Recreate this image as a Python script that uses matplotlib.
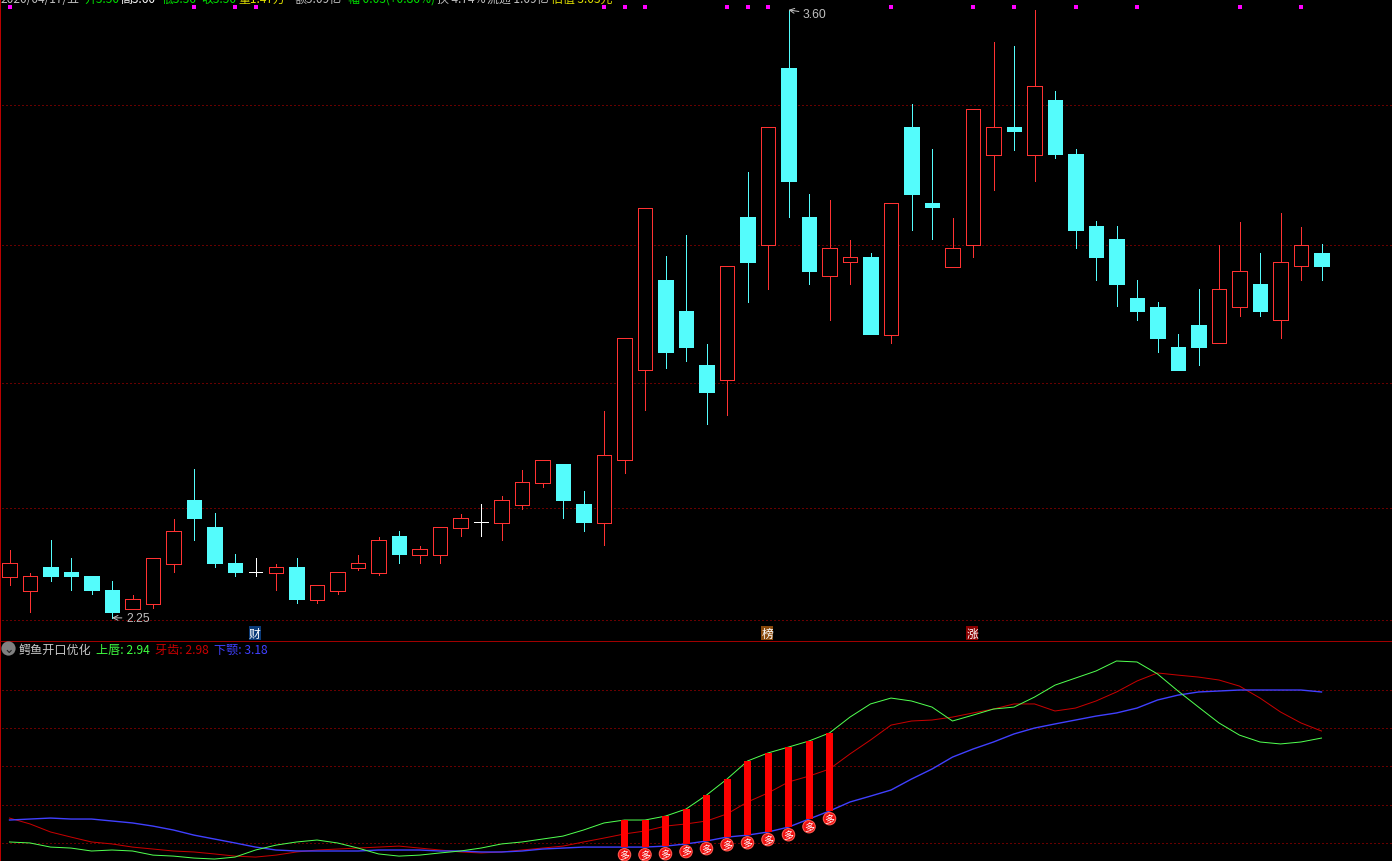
import matplotlib
matplotlib.use("Agg")
import matplotlib.pyplot as plt
from matplotlib.patches import Rectangle

plt.rcParams['font.family'] = ['Noto Sans CJK SC', 'DejaVu Sans']

# Daily prices
opens = [2.340, 2.309, 2.362, 2.351, 2.342, 2.311, 2.269, 2.280, 2.369, 2.511, 2.451, 2.371, 2.351,
         2.349, 2.362, 2.289, 2.309, 2.360, 2.349, 2.431, 2.389, 2.389, 2.449, 2.462, 2.460, 2.500,
         2.549, 2.591, 2.502, 2.460, 2.600, 2.800, 3.000, 2.931, 2.811, 2.778, 3.140, 3.078, 3.471,
         3.140, 3.009, 3.040, 3.051, 2.878, 3.340, 3.171, 3.029, 3.078, 3.278, 3.340, 3.278, 3.400,
         3.280, 3.120, 3.091, 2.960, 2.940, 2.851, 2.900, 2.860, 2.940, 2.991, 2.911, 3.031, 3.060]
closes = [2.371, 2.342, 2.342, 2.342, 2.311, 2.262, 2.291, 2.382, 2.442, 2.471, 2.371, 2.351, 2.351,
          2.362, 2.291, 2.322, 2.351, 2.371, 2.422, 2.391, 2.402, 2.451, 2.471, 2.462, 2.511, 2.551,
          2.600, 2.511, 2.462, 2.611, 2.871, 3.160, 2.840, 2.851, 2.751, 3.031, 3.040, 3.340, 3.220,
          3.020, 3.071, 3.051, 2.880, 3.171, 3.191, 3.162, 3.071, 3.380, 3.340, 3.331, 3.431, 3.280,
          3.111, 3.051, 2.991, 2.931, 2.871, 2.800, 2.851, 2.980, 3.020, 2.931, 3.040, 3.078, 3.031]
highs = [2.400, 2.349, 2.422, 2.382, 2.342, 2.331, 2.300, 2.382, 2.469, 2.580, 2.482, 2.391, 2.382,
         2.369, 2.382, 2.322, 2.351, 2.389, 2.429, 2.442, 2.409, 2.451, 2.480, 2.502, 2.520, 2.578,
         2.600, 2.591, 2.531, 2.709, 2.871, 3.160, 3.053, 3.100, 2.858, 3.031, 3.240, 3.340, 3.600,
         3.191, 3.178, 3.089, 3.060, 3.171, 3.391, 3.291, 3.138, 3.380, 3.529, 3.520, 3.600, 3.420,
         3.291, 3.131, 3.120, 3.000, 2.951, 2.880, 2.980, 3.078, 3.129, 3.060, 3.149, 3.118, 3.080]
lows = [2.322, 2.262, 2.331, 2.311, 2.302, 2.249, 2.269, 2.271, 2.351, 2.422, 2.362, 2.342, 2.342,
        2.311, 2.282, 2.282, 2.302, 2.355, 2.344, 2.371, 2.371, 2.371, 2.431, 2.431, 2.422, 2.491,
        2.540, 2.471, 2.442, 2.411, 2.571, 2.711, 2.804, 2.820, 2.680, 2.700, 2.951, 2.980, 3.140,
        2.991, 2.911, 2.991, 2.880, 2.860, 3.111, 3.091, 3.029, 3.051, 3.200, 3.289, 3.220, 3.271,
        3.071, 3.000, 2.942, 2.911, 2.840, 2.800, 2.811, 2.860, 2.920, 2.920, 2.871, 3.000, 3.000]

# Alligator lines
lips = [2.410, 2.405, 2.384, 2.379, 2.364, 2.369, 2.364, 2.343, 2.338, 2.328, 2.323, 2.333, 2.369,
        2.394, 2.410, 2.420, 2.405, 2.379, 2.349, 2.338, 2.343, 2.354, 2.364, 2.379, 2.400, 2.410,
        2.425, 2.440, 2.471, 2.507, 2.522, 2.522, 2.542, 2.578, 2.649, 2.731, 2.823, 2.864, 2.894,
        2.925, 2.966, 3.047, 3.114, 3.144, 3.129, 3.098, 3.027, 3.057, 3.088, 3.098, 3.149, 3.210,
        3.246, 3.282, 3.333, 3.328, 3.267, 3.180, 3.098, 3.017, 2.955, 2.920, 2.910, 2.920, 2.940]
teeth = [2.532, 2.502, 2.461, 2.435, 2.410, 2.400, 2.384, 2.374, 2.364, 2.359, 2.349, 2.338, 2.333,
         2.343, 2.359, 2.369, 2.374, 2.379, 2.384, 2.389, 2.379, 2.369, 2.359, 2.354, 2.359, 2.369,
         2.379, 2.389, 2.410, 2.430, 2.451, 2.466, 2.491, 2.502, 2.517, 2.553, 2.614, 2.660, 2.716,
         2.746, 2.782, 2.859, 2.930, 3.006, 3.027, 3.032, 3.047, 3.068, 3.088, 3.114, 3.114, 3.078,
         3.093, 3.129, 3.175, 3.231, 3.272, 3.261, 3.251, 3.236, 3.205, 3.144, 3.073, 3.017, 2.976]
jaw = [2.522, 2.527, 2.532, 2.527, 2.527, 2.517, 2.507, 2.491, 2.471, 2.445, 2.425, 2.405, 2.384,
       2.369, 2.364, 2.364, 2.364, 2.364, 2.369, 2.369, 2.369, 2.364, 2.364, 2.359, 2.359, 2.364,
       2.374, 2.379, 2.384, 2.384, 2.384, 2.384, 2.389, 2.400, 2.415, 2.435, 2.445, 2.461, 2.486,
       2.527, 2.568, 2.614, 2.644, 2.675, 2.731, 2.782, 2.843, 2.884, 2.920, 2.961, 2.991, 3.012,
       3.032, 3.052, 3.068, 3.093, 3.134, 3.159, 3.175, 3.180, 3.185, 3.185, 3.185, 3.185, 3.175]

signal_days = [30, 31, 32, 33, 34, 35, 36, 37, 38, 39, 40]
flag_days = [0, 9, 11, 12, 29, 30, 31, 35, 36, 37, 43, 47, 49, 52, 55, 60, 63]
main_grid = [3.389, 3.078, 2.771, 2.493, 2.244]
sub_grid = [3.185, 2.991, 2.797, 2.598, 2.405]
notes = [(12, "财", "#0a3a78"), (37, "榜", "#8a4a0c"), (47, "涨", "#8a0000")]
header = [(1, "2020/04/17/五", "#c0c0c0"), (84, "开3.50", "#00e000"), (120, "高3.60", "#ffffff"),
          (162, "低3.36", "#00e000"), (201, "收3.50", "#00e000"), (238, "量1.47万", "#e0e000"),
          (295, "额5.09亿", "#c0c0c0"), (348, "幅 0.03(+0.86%)", "#00e000"),
          (437, "换 4.74%", "#c0c0c0"), (487, "流通 1.09亿", "#c0c0c0"), (551, "估值 3.03元", "#e0e000")]
legend = [(19, "鳄鱼开口优化", "#c8c8c8"), (96, "上唇: 2.94", "#40ff40"),
          (155, "牙齿: 2.98", "#c80000"), (214, "下颚: 3.18", "#4040ff")]

W, H = 1392, 862
SPLIT = 642
RED = "#ff3232"
CYAN = "#54fcfc"
GRID = "#d00000"
PX = 0.72

fig = plt.figure(figsize=(W / 100, H / 100), dpi=100, facecolor="black")
ax = fig.add_axes([0, (H - SPLIT) / H, 1, SPLIT / H], facecolor="black", zorder=2)
sub = fig.add_axes([0, 0, 1, (H - SPLIT) / H], facecolor="black", zorder=1)

xlim = (-9.5 / 20.5, (W - 9.5) / 20.5)
ax.set_xlim(xlim)
ax.set_ylim(2.1975, 3.6242)
sub.set_xlim(xlim)
sub.set_ylim(2.313, 3.435)

for a in (ax, sub):
    a.set_xticks([])
    a.set_yticks([])
    for s in a.spines.values():
        s.set_visible(False)
    a.spines['left'].set_visible(True)
    a.spines['left'].set_color("#c00000")
    a.spines['left'].set_linewidth(1.4)
ax.spines['bottom'].set_visible(True)
ax.spines['bottom'].set_color("#a00000")
ax.spines['bottom'].set_linewidth(PX)

for g in main_grid:
    ax.plot([xlim[0] + 2 / 20.5, xlim[1]], [g, g], color=GRID, lw=PX,
            ls=(0, (1, 3)), snap=True, zorder=1)
for g in sub_grid:
    sub.plot([xlim[0] + 2 / 20.5, xlim[1]], [g, g], color=GRID, lw=PX,
             ls=(0, (1, 3)), snap=True, zorder=1)

# candles
for i in range(len(opens)):
    o, c, h, l = opens[i], closes[i], highs[i], lows[i]
    col = RED if c > o else CYAN if c < o else "#ffffff"
    ax.plot([i, i], [l, h], color=col, lw=PX, antialiased=False, zorder=2, solid_capstyle="butt")
    if c == o:
        ax.plot([i - 0.34, i + 0.34], [o, o], color=col, lw=PX, antialiased=False, zorder=3)
    else:
        ax.add_patch(Rectangle((i - 0.35, min(o, c)), 0.7, abs(c - o), antialiased=False,
                               facecolor="black" if c > o else col, edgecolor=col,
                               lw=PX, zorder=3))

# flag row along the top
ax.scatter(flag_days, [3.606] * len(flag_days), marker="s", s=9, color="#ff00ff", linewidths=0, zorder=4)

# high and low notes
ax.annotate("3.60", xy=(38, 3.60), xytext=(803, H - 15), textcoords="figure pixels", color="#c0c0c0",
            fontsize=8.7, va="center", family="Liberation Sans",
            arrowprops=dict(arrowstyle="->", color="#c0c0c0", lw=PX, shrinkA=1, shrinkB=0))
ax.annotate("2.25", xy=(5, 2.249), xytext=(126, H - 619), textcoords="figure pixels", color="#c0c0c0",
            fontsize=8.7, va="center", family="Liberation Sans",
            arrowprops=dict(arrowstyle="->", color="#c0c0c0", lw=PX, shrinkA=1, shrinkB=0))

for day, ch, bg in notes:
    ax.text(day - 0.04, 2.215, ch, color="white", fontsize=8.5, ha="center", va="center", zorder=5,
            bbox=dict(boxstyle="square,pad=0.02", facecolor=bg, edgecolor="none"))

for px, txt, col in header:
    fig.text(px / W, 1 - 3 / H, txt, color=col, fontsize=8.6, ha="left", va="baseline")

# lower pane
days = range(len(lips))
sub.plot(days, teeth, color="#c80000", lw=PX, zorder=3)
sub.plot(days, jaw, color="#4040ff", lw=1.0, zorder=3)
sub.plot(days, lips, color="#50ff50", lw=PX, zorder=3)

for d in signal_days:
    sub.bar(d, lips[d] - jaw[d], bottom=jaw[d], width=7 / 20.5, color="#ff0000", zorder=4)
    # ball sits just under the jaw line
    sub.annotate("多", xy=(d, jaw[d]), xytext=(0, -5.5), textcoords="offset points", color="white",
                 fontsize=7.2, ha="center", va="center", zorder=6,
                 bbox=dict(boxstyle="circle,pad=0.12", facecolor="#f01010", edgecolor="#ff5a50", lw=0.8))

for px, txt, col in legend:
    fig.text(px / W, 1 - 654 / H, txt, color=col, fontsize=8.7, ha="left", va="baseline", zorder=7)
fig.text(8.5 / W, 1 - 649.5 / H, "⌄", color="#202020", fontsize=9, ha="center", va="center", zorder=7,
         family="DejaVu Sans",
         bbox=dict(boxstyle="circle,pad=0.05", facecolor="#808080", edgecolor="none"))

plt.savefig("out.png", dpi=100, facecolor="black")
